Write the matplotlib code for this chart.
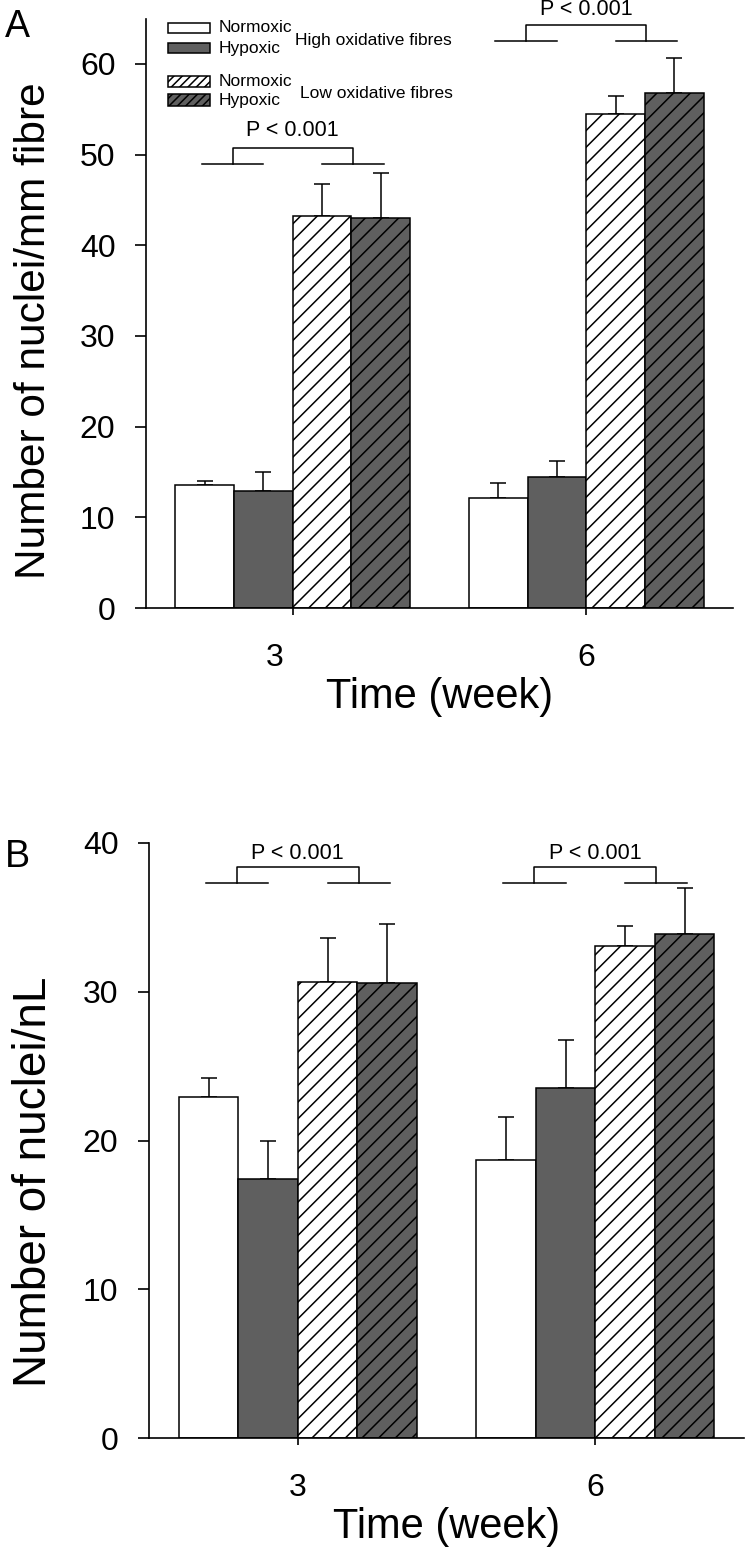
import numpy as np
import matplotlib
matplotlib.use("Agg")
import matplotlib.pyplot as plt
from matplotlib.patches import Rectangle
from matplotlib.transforms import ScaledTranslation

plt.rcParams['font.family'] = ['Liberation Sans', 'DejaVu Sans']
plt.rcParams['hatch.linewidth'] = 1.1
plt.rcParams['axes.linewidth'] = 1.2

W, H = 747, 1549
DARK = '#5f5f5f'

weeks = ['3', '6']

# panel A: nuclei per mm fibre
a_norm_high = [13.6, 12.1]
a_hyp_high = [12.9, 14.4]
a_norm_low = [43.2, 54.5]
a_hyp_low = [43.0, 56.8]
a_norm_high_err = [0.4, 1.7]
a_hyp_high_err = [2.1, 1.8]
a_norm_low_err = [3.6, 2.0]
a_hyp_low_err = [5.0, 3.9]
a_brackets = [(49.0, 50.7, 52.7), (62.5, 64.3, 66.0)]

# panel B: nuclei per nL
b_norm_high = [22.9, 18.7]
b_hyp_high = [17.4, 23.55]
b_norm_low = [30.65, 33.1]
b_hyp_low = [30.6, 33.9]
b_norm_high_err = [1.3, 2.9]
b_hyp_high_err = [2.6, 3.2]
b_norm_low_err = [2.95, 1.3]
b_hyp_low_err = [3.95, 3.1]
b_brackets = [(37.3, 38.4, 39.3), (37.3, 38.4, 39.3)]

p_text = 'P < 0.001'


def px_box(l, t, r, b):
    return [l / W, 1 - b / H, (r - l) / W, (b - t) / H]


fig = plt.figure(figsize=(W / 100, H / 100), dpi=100)
axA = fig.add_axes(px_box(146, 18.6, 733, 608))
axB = fig.add_axes(px_box(149, 843, 744, 1438))


def draw(ax, series, errs, brackets, ylim, ylabel, ylabel_size):
    x = np.arange(len(weeks))
    styles = [('white', ''), (DARK, ''), ('white', '//'), (DARK, '//')]
    offs = [-0.3, -0.1, 0.1, 0.3]
    for vals, err, (fc, hatch), o in zip(series, errs, styles, offs):
        ax.bar(x + o, vals, width=0.2, color=fc, edgecolor='black',
               linewidth=1.1, hatch=hatch, zorder=2)
        ax.errorbar(x + o, vals, yerr=[np.zeros(len(err)), err], fmt='none',
                    ecolor='black', elinewidth=1.1, capsize=5.5,
                    capthick=1.1, zorder=1)
    for xi, (low, high, ty) in zip(x, brackets):
        kw = dict(color='black', lw=1.1, clip_on=False)
        ax.plot([xi - 0.31, xi - 0.1], [low, low], **kw)
        ax.plot([xi + 0.1, xi + 0.31], [low, low], **kw)
        ax.plot([xi - 0.205, xi - 0.205, xi + 0.205, xi + 0.205],
                [low, high, high, low], **kw)
        ax.text(xi, ty, p_text, ha='center', va='center', fontsize=15.5)
    ax.set_xlim(-0.5, 1.5)
    ax.set_ylim(*ylim)
    ax.set_yticks(np.arange(0, ylim[1] + 1, 10))
    ax.set_xticks(x)
    ax.set_xticklabels(weeks)
    for s in ['top', 'right']:
        ax.spines[s].set_visible(False)
    ax.tick_params(axis='y', direction='out', length=8, width=1.2,
                   labelsize=23, pad=14)
    ax.tick_params(axis='x', direction='out', length=5, width=1.2,
                   labelsize=23, pad=20)
    ax.set_xlabel('Time (week)', fontsize=30, labelpad=3)
    ax.set_ylabel(ylabel, fontsize=ylabel_size)


draw(axA, [a_norm_high, a_hyp_high, a_norm_low, a_hyp_low],
     [a_norm_high_err, a_hyp_high_err, a_norm_low_err, a_hyp_low_err],
     a_brackets, (0, 65), 'Number of nuclei/mm fibre', 30.5)
draw(axB, [b_norm_high, b_hyp_high, b_norm_low, b_hyp_low],
     [b_norm_high_err, b_hyp_high_err, b_norm_low_err, b_hyp_low_err],
     b_brackets, (0, 40), 'Number of nuclei/nL', 33)
axA.yaxis.set_label_coords(-0.157, 0.47)
axB.yaxis.set_label_coords(-0.156, 0.43)

# in the original, the "3" of panel A sits a little left of its tick
lbl = axA.xaxis.get_major_ticks()[0].label1
lbl.set_transform(lbl.get_transform() +
                  ScaledTranslation(-0.18, 0, fig.dpi_scale_trans))

# legend drawn by hand in pixel space
legend_rows = [('white', '', 'Normoxic', 23, 33),
               (DARK, '', 'Hypoxic', 43, 53),
               ('white', '////', 'Normoxic', 76, 87),
               (DARK, '////', 'Hypoxic', 94, 106)]
for fc, hatch, label, top, bot in legend_rows:
    fig.add_artist(Rectangle((168 / W, 1 - bot / H), 42 / W, (bot - top) / H,
                             transform=fig.transFigure, facecolor=fc,
                             edgecolor='black', linewidth=1.1, hatch=hatch))
    fig.text(219 / W, 1 - (top + bot) / 2 / H, label, ha='left',
             va='center', fontsize=12.5)
fig.text(295 / W, 1 - 41 / H, 'High oxidative fibres', ha='left',
         va='center', fontsize=12.5)
fig.text(300 / W, 1 - 93 / H, 'Low oxidative fibres', ha='left',
         va='center', fontsize=12.5)

fig.text(5 / W, 1 - 37 / H, 'A', fontsize=27, va='baseline')
fig.text(5 / W, 1 - 867 / H, 'B', fontsize=27, va='baseline')

fig.savefig('out.png', dpi=100)
